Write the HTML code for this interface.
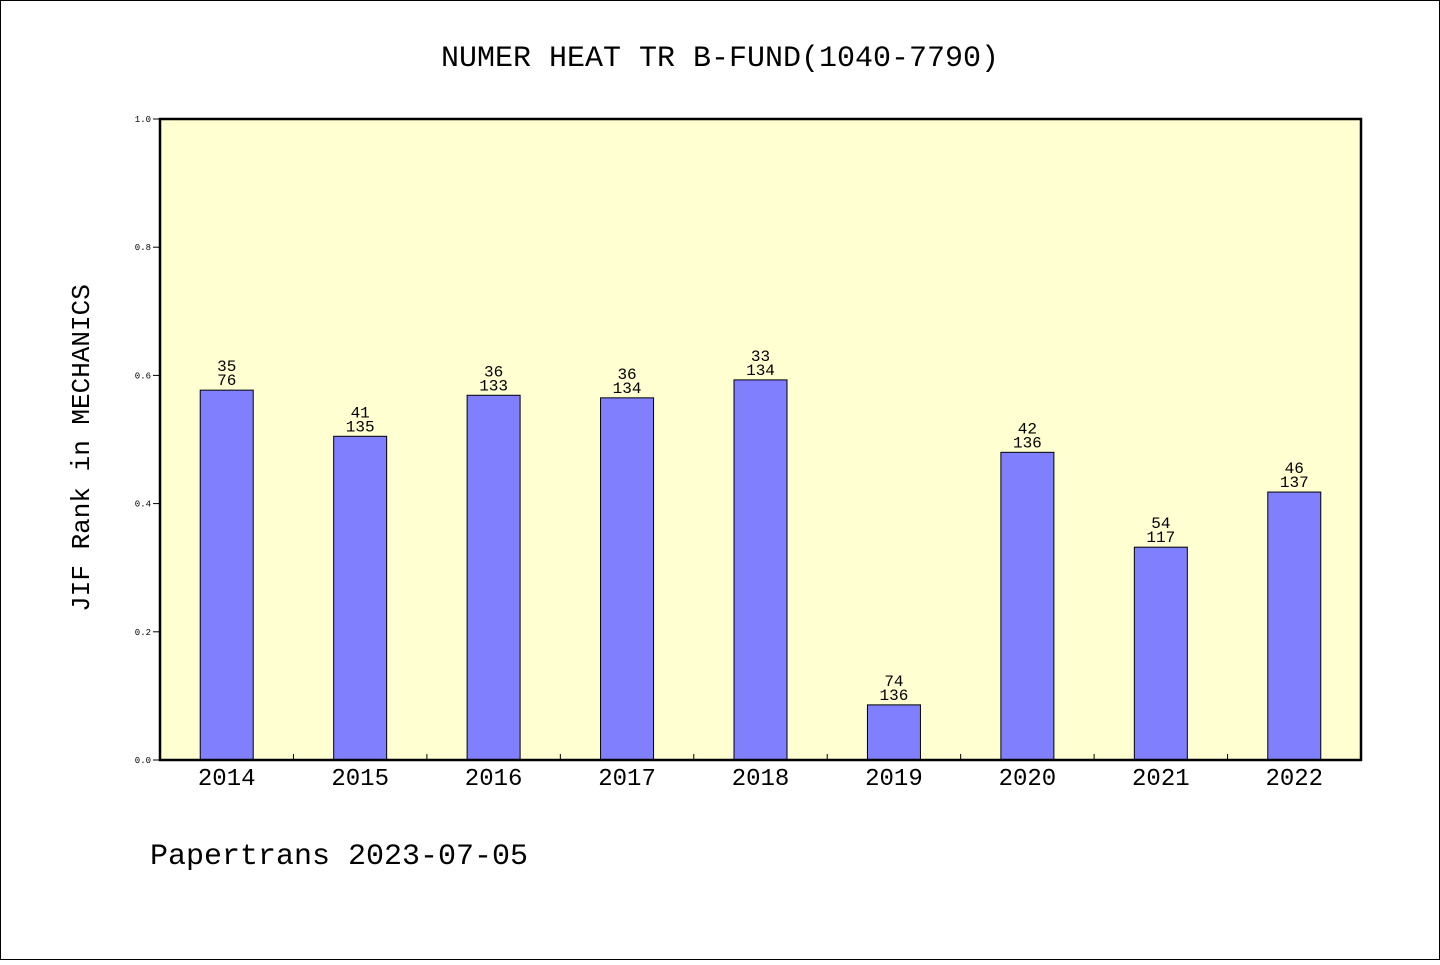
<!DOCTYPE html>
<html><head><meta charset="utf-8"><style>
body{margin:0;background:#fff;}
svg text{font-family:"Liberation Mono","WenQuanYi Zen Hei",monospace;fill:#000;}
</style></head><body>
<svg width="1440" height="960" xmlns="http://www.w3.org/2000/svg">
<rect x="0.5" y="0.5" width="1439" height="959" fill="#fff" stroke="#000"/>
<text x="720" y="66" font-size="30" text-anchor="middle">NUMER HEAT TR B-FUND(1040-7790)</text>
<rect x="160" y="119" width="1201" height="641" fill="#ffffd2"/>
<g id="marks"></g>
<rect x="160" y="119" width="1201" height="641" fill="none" stroke="#000" stroke-width="2.5"/>
<text transform="translate(89,448) rotate(-90)" font-size="26" text-anchor="middle">JIF Rank in MECHANICS</text>
<text x="150" y="864" font-size="30">Papertrans 2023-07-05</text>
</svg>
<script>
const years=["2014","2015","2016","2017","2018","2019","2020","2021","2022"];
const values=[0.577,0.505,0.569,0.565,0.593,0.086,0.480,0.332,0.418];
const ranks=["35","41","36","36","33","74","42","54","46"];
const totals=["76","135","133","134","134","136","136","117","137"];
const yTicks=["0.0","0.2","0.4","0.6","0.8","1.0"];
const NS="http://www.w3.org/2000/svg";
const X0=160,W=1201,Y0=760,H=641;
const slot=W/years.length;
const xc=i=>X0+slot*(i+0.5);
const y=v=>Y0-v*H;
const g=document.getElementById('marks');
function mk(t,a){const e=document.createElementNS(NS,t);for(const k in a)e.setAttribute(k,a[k]);g.appendChild(e);return e;}
yTicks.forEach(t=>{
  const v=parseFloat(t);
  const l=mk('line',{x1:153,x2:160,y1:y(v),y2:y(v),stroke:'#000'});
  
  
  const tx=mk('text',{x:151,y:y(v)+3,'font-size':9,'text-anchor':'end'});
  tx.textContent=t;
  
  
});
years.forEach((yr,i)=>{
  if(i>0){
    const tk=mk('line',{x1:X0+slot*i,x2:X0+slot*i,y1:Y0,y2:Y0-6,stroke:'#000'});
    
    
  }
  const b=mk('rect',{x:xc(i)-26.5,y:y(values[i]),width:53,height:values[i]*H,fill:'#8080ff',stroke:'#000','stroke-width':1});
  
  
  const t1=mk('text',{x:xc(i),y:y(values[i])-19,'font-size':16,'text-anchor':'middle'});
  t1.textContent=ranks[i];
  
  
  const t2=mk('text',{x:xc(i),y:y(values[i])-5,'font-size':16,'text-anchor':'middle'});
  t2.textContent=totals[i];
  
  
  const xl=mk('text',{x:xc(i),y:785,'font-size':24,'text-anchor':'middle'});
  xl.textContent=yr;
  
  
});
</script>
</body></html>
